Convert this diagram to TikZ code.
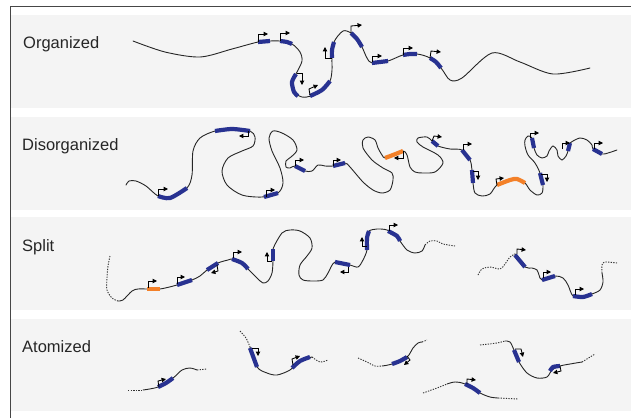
\documentclass[tikz,border=0pt]{standalone}
\usepackage{fontspec}
\setmainfont{Liberation Sans}
\usetikzlibrary{arrows.meta}
\definecolor{panelgrey}{RGB}{244,244,244}
\definecolor{genblue}{RGB}{40,50,145}
\definecolor{genorange}{RGB}{243,128,40}
\definecolor{framegrey}{RGB}{70,70,70}
\tikzset{
  chrom/.style={line width=0.9pt, black!85, line cap=round},
  loose/.style={line width=0.9pt, black!80, dash pattern=on 1.3pt off 1.3pt},
  gene/.style={line width=4.2pt, genblue},
  ogene/.style={line width=4.2pt, genorange},
  prom/.style={line width=0.85pt, black, -{Triangle[length=4.4pt,width=4.4pt]}},
  panel/.style={fill=panelgrey, draw=none},
  label/.style={anchor=base west, font=\fontsize{16.5}{18}\selectfont, text=black!85, inner sep=0pt},
}
\begin{document}
\begin{tikzpicture}[x=1pt, y=-1pt]
\useasboundingbox (0,0) rectangle (631,418);
\fill[white] (0,0) rectangle (631,418);

% outer frame
\draw[framegrey, line width=1pt] (10,418) -- (10,6) -- (631,6);

% panels
\fill[panel] (11,15) rectangle (631,108);
\fill[panel] (11,117) rectangle (631,210);
\fill[panel] (11,217) rectangle (631,310);
\fill[panel] (11,319) rectangle (631,411);

% labels
\node[label] (lorg) at (23,48) {Organized};
\node[label] (ldis) at (22,150) {Disorganized};
\node[label] (lspl) at (22,251) {Split};
\node[label] (latm) at (22,352) {Atomized};

% ---------------- Organized ----------------
\draw[chrom] plot[smooth] coordinates {(133,41) (165,52) (200,57) (232,49) (258,42) (270,41) (280,41) (292,44) (300,52) (302,61) (297,72) (292,82) (294,92) (302,97) (311,96) (322,90) (330,81) (332,70) (332,58) (334,42) (343,31) (351,33) (357,39) (362,47) (367,58) (372,63) (388,61) (403,55) (417,54) (430,58) (441,68) (450,80) (462,78) (492,53) (520,62) (553,74) (590,68)};
\draw[gene] plot[smooth] coordinates {(258,42) (270,41)};
\draw[gene] plot[smooth] coordinates {(280,41) (287,42) (292,44)};
\draw[gene] plot[smooth] coordinates {(296,74) (292,82) (294,92) (298,96)};
\draw[gene] plot[smooth] coordinates {(310,96) (322,90) (330,81)};
\draw[gene] plot[smooth] coordinates {(332,58) (332,50) (334,42)};
\draw[gene] plot[smooth] coordinates {(351,33) (357,39) (362,47)};
\draw[gene] plot[smooth] coordinates {(372,63) (380,62) (388,61)};
\draw[gene] plot[smooth] coordinates {(403,55) (410,54) (417,54)};
\draw[gene] plot[smooth] coordinates {(430,58) (436,62) (441,68)};
\draw[prom] (258,42) -- ++(0,-8) -- ++(10,0);
\draw[prom] (280,41) -- ++(0,-8) -- ++(10,0);
\draw[prom] (297,73) -- ++(5,0) -- ++(0,12);
\draw[prom] (310,95) -- ++(-1,-6) -- ++(9,-4);
\draw[prom] (332,58) -- ++(-7,0) -- ++(0,-11);
\draw[prom] (351,33) -- ++(0,-7) -- ++(11,-1);
\draw[prom] (372,62) -- ++(0,-6) -- ++(10,0);
\draw[prom] (403,55) -- ++(0,-7) -- ++(10,0);
\draw[prom] (430,58) -- ++(1,-7) -- ++(10,1);

% ---------------- Disorganized ----------------
\draw[chrom] plot[smooth] coordinates {(126,185) (129,181) (136,181) (146,186) (158,196) (170,198) (187,188) (192,175) (193,151) (200,138) (215,131) (232,129) (250,131) (255,137) (253,146) (242,151) (228,158) (222,171) (227,185) (242,195) (262,197) (278,193) (283,183) (280,168) (272,151) (269,138) (273,131) (282,133) (293,140) (297,150) (291,157) (286,161) (286,167) (290,168) (295,166) (305,171) (312,171) (318,165) (325,166) (333,166) (345,163) (350,167) (363,182) (373,190) (382,193) (390,190) (393,180) (392,173) (383,168) (372,160) (363,148) (363,140) (368,137) (375,140) (378,148) (382,155) (385,158) (393,155) (403,151) (407,155) (410,167) (415,172) (423,173) (435,172) (443,163) (438,155) (423,147) (417,142) (418,138) (427,137) (432,141) (438,146) (450,149) (462,150) (470,160) (472,170) (473,183) (475,193) (482,196) (490,194) (497,185) (510,180) (517,179) (525,183) (530,190) (537,195) (542,193) (543,185) (540,173) (535,163) (528,155) (525,146) (525,140) (528,136) (532,138) (534,148) (537,155) (542,158) (547,156) (549,151) (553,146) (557,150) (558,156) (562,160) (566,156) (568,151) (570,143) (573,141) (580,138) (587,140) (592,145) (593,149) (602,154) (608,153) (617,150)};
\draw[gene] plot[smooth] coordinates {(158,196) (170,198) (187,188)};
\draw[gene] plot[smooth] coordinates {(215,131) (232,129) (250,131)};
\draw[gene] plot[smooth] coordinates {(264,197) (278,193)};
\draw[gene] plot[smooth] coordinates {(295,166) (305,171)};
\draw[gene] plot[smooth] coordinates {(333,166) (345,163)};
\draw[ogene] plot[smooth] coordinates {(385,158) (393,155) (403,151)};
\draw[gene] plot[smooth] coordinates {(432,141) (438,146)};
\draw[gene] plot[smooth] coordinates {(462,150) (470,160)};
\draw[gene] plot[smooth] coordinates {(472,170) (473,183)};
\draw[ogene] plot[smooth] coordinates {(497,185) (510,180) (517,179) (525,183)};
\draw[gene] plot[smooth] coordinates {(543,185) (540,173)};
\draw[gene] plot[smooth] coordinates {(532,138) (534,148)};
\draw[gene] plot[smooth] coordinates {(568,151) (570,143)};
\draw[gene] plot[smooth] coordinates {(593,149) (602,154)};
\draw[prom] (158,196) -- ++(0,-7) -- ++(10,0);
\draw[prom] (248,131) -- ++(0,5) -- ++(-9,0);
\draw[prom] (266,197) -- ++(0,-7) -- ++(9,0);
\draw[prom] (295,166) -- ++(0,-6) -- ++(9,0);
\draw[prom] (333,166) -- ++(0,-6) -- ++(8,0);
\draw[prom] (403,151) -- ++(0,7) -- ++(-9,0);
\draw[prom] (432,141) -- ++(2,-5) -- ++(8,1);
\draw[prom] (463,150) -- ++(0,-6) -- ++(9,0);
\draw[prom] (473,171) -- ++(5,0) -- ++(0,9);
\draw[prom] (497,185) -- ++(-1,-6) -- ++(8,-1);
\draw[prom] (541,174) -- ++(6,0) -- ++(0,8);
\draw[prom] (530,138) -- ++(0,-5) -- ++(9,0);
\draw[prom] (562,149) -- ++(0,-6) -- ++(8,0);
\draw[prom] (594,149) -- ++(0,-6) -- ++(9,0);

% ---------------- Split ----------------
\draw[loose] plot[smooth] coordinates {(110,256) (108,266) (107,278) (107,290) (112,298) (118,301)};
\draw[chrom] plot[smooth] coordinates {(118,301) (123,300) (132,291) (138,289) (147,289) (160,289) (177,285) (192,280) (200,276) (207,270) (218,263) (228,260) (233,259) (242,263) (248,269) (257,278) (263,283) (268,281) (272,273) (273,261) (273,249) (282,233) (290,230) (300,231) (310,238) (312,248) (307,256) (300,265) (299,275) (303,280) (313,281) (323,280) (328,273) (335,262) (350,265) (358,267) (363,260) (367,250) (367,238) (369,231) (377,229) (387,230) (397,236) (400,241) (407,250) (415,253) (422,251) (425,245)};
\draw[loose] plot[smooth] coordinates {(425,245) (430,241) (437,241) (443,244) (455,246)};
\draw[ogene] plot[smooth] coordinates {(147,289) (160,289)};
\draw[gene] plot[smooth] coordinates {(177,285) (192,280)};
\draw[gene] plot[smooth] coordinates {(207,270) (218,263)};
\draw[gene] plot[smooth] coordinates {(232,259) (242,263) (248,269)};
\draw[gene] plot[smooth] coordinates {(273,261) (273,249)};
\draw[gene] plot[smooth] coordinates {(335,262) (350,265)};
\draw[gene] plot[smooth] coordinates {(367,250) (367,238) (369,231)};
\draw[gene] plot[smooth] coordinates {(388,231) (397,236) (400,241)};
\draw[prom] (148,288) -- ++(0,-7) -- ++(9,0);
\draw[prom] (177,284) -- ++(0,-7) -- ++(8,0);
\draw[prom] (217,265) -- ++(1,6) -- ++(-7,2);
\draw[prom] (233,258) -- ++(0,-6) -- ++(9,0);
\draw[prom] (272,261) -- ++(-5,0) -- ++(0,-9);
\draw[prom] (348,267) -- ++(0,5) -- ++(-8,0);
\draw[prom] (367,246) -- ++(-5,0) -- ++(0,-9);
\draw[prom] (389,231) -- ++(0,-6) -- ++(9,0);

\draw[loose] plot[smooth] coordinates {(478,275) (482,269) (490,267) (500,269) (505,264) (510,257) (515,254)};
\draw[chrom] plot[smooth] coordinates {(515,254) (525,267) (532,268) (537,270) (539,275) (542,280) (555,276) (563,278) (568,285) (573,296) (583,297) (592,294) (600,290) (603,282) (602,273)};
\draw[loose] plot[smooth] coordinates {(602,273) (602,265) (605,262) (617,263)};
\draw[gene] plot[smooth] coordinates {(515,255) (525,267)};
\draw[gene] plot[smooth] coordinates {(542,280) (555,276)};
\draw[gene] plot[smooth] coordinates {(573,296) (583,297) (592,294)};
\draw[prom] (517,254) -- ++(0,-5) -- ++(9,1);
\draw[prom] (543,278) -- ++(0,-6) -- ++(8,0);
\draw[prom] (575,295) -- ++(0,-6) -- ++(9,0);

% ---------------- Atomized ----------------
% fragment 1
\draw[loose] (128,390) -- (143,390);
\draw[chrom] plot[smooth] coordinates {(143,390) (158,387) (173,378) (182,370) (190,368) (197,370)};
\draw[loose] (197,370) -- (207,369);
\draw[gene] plot[smooth] coordinates {(158,387) (166,383) (173,378)};
\draw[prom] (159,387) -- ++(-1,-6) -- ++(8,-2);
% fragment 2
\draw[loose] plot[smooth] coordinates {(240,331) (246,338) (250,347)};
\draw[chrom] plot[smooth] coordinates {(250,347) (257,367) (267,373) (277,375) (290,370) (300,361) (312,357)};
\draw[loose] plot[smooth] coordinates {(312,357) (320,362) (328,360)};
\draw[gene] plot[smooth] coordinates {(250,348) (257,367)};
\draw[gene] plot[smooth] coordinates {(292,368) (300,361) (310,357)};
\draw[prom] (252,348) -- ++(6,0) -- ++(0,8);
\draw[prom] (293,365) -- ++(-1,-6) -- ++(8,-3);
% fragment 3
\draw[loose] plot[smooth] coordinates {(358,358) (367,362) (375,366) (382,366)};
\draw[chrom] plot[smooth] coordinates {(382,366) (392,364) (407,357) (413,348) (418,343) (422,342)};
\draw[loose] (422,342) -- (427,340);
\draw[gene] plot[smooth] coordinates {(392,364) (400,361) (407,357)};
\draw[prom] (407,356) -- ++(3,4) -- ++(-6,5);
% fragment 4
\draw[loose] plot[smooth] coordinates {(423,393) (437,388) (447,384)};
\draw[chrom] plot[smooth] coordinates {(447,384) (455,382) (465,384) (480,393) (490,397) (498,398)};
\draw[loose] (498,398) -- (518,399);
\draw[gene] plot[smooth] coordinates {(465,384) (473,388) (480,393)};
\draw[prom] (467,384) -- ++(0,-5) -- ++(9,1);
% fragment 5
\draw[loose] plot[smooth] coordinates {(480,345) (497,343) (505,341)};
\draw[chrom] plot[smooth] coordinates {(505,341) (510,342) (514,350) (519,362) (527,373) (537,378) (547,377) (552,370) (560,366) (570,364) (582,362)};
\draw[loose] (582,362) -- (595,354);
\draw[gene] plot[smooth] coordinates {(514,350) (519,362)};
\draw[gene] plot[smooth] coordinates {(550,371) (553,367) (560,366)};
\draw[prom] (515,349) -- ++(6,0) -- ++(2,8);
\draw[prom] (560,366) -- ++(1,5) -- ++(-8,2);
\end{tikzpicture}
\end{document}
